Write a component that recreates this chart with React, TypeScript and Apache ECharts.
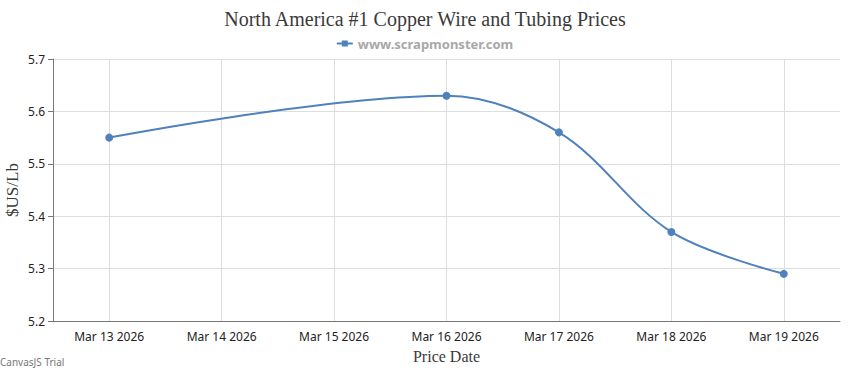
import React, { useEffect, useRef } from "react";
import * as echarts from "echarts";

const categories = ["Mar 13 2026", "Mar 14 2026", "Mar 15 2026", "Mar 16 2026", "Mar 17 2026", "Mar 18 2026", "Mar 19 2026"];
const prices: (number | string)[] = [5.55, "-", "-", 5.63, 5.56, 5.37, 5.29];
const yTicks = { min: 5.2, max: 5.7, interval: 0.1 };

export default function App() {
  const ref = useRef<HTMLDivElement>(null);
  useEffect(() => {
    if (!ref.current) return;
    const chart = echarts.init(ref.current, undefined, { renderer: "svg" });
    const axisFont = "'Noto Sans', sans-serif";
    chart.setOption({
      animation: false,
      backgroundColor: "#ffffff",
      title: {
        text: "North America #1 Copper Wire and Tubing Prices",
        left: "center",
        top: 4,
        textStyle: { fontFamily: "'Liberation Serif', serif", fontSize: 20, fontWeight: "normal", color: "#3a3a3a" },
      },
      legend: {
        top: 32,
        left: "center",
        itemWidth: 16,
        itemHeight: 8,
        itemGap: 4,
        data: [{ name: "www.scrapmonster.com", icon: "path://M0,3L16,3L16,5L0,5Z M5,1L11,1L11,7L5,7Z" }],
        textStyle: { fontFamily: axisFont, fontSize: 13, fontWeight: "bold", color: "#a8a8a8" },
      },
      grid: { left: 53, right: 10, top: 59, bottom: 49, containLabel: false, outerBoundsMode: "none" },
      xAxis: {
        type: "category",
        data: categories,
        boundaryGap: true,
        name: "Price Date",
        nameLocation: "middle",
        nameGap: 27,
        nameMoveOverlap: false,
        nameTextStyle: { fontFamily: "'Liberation Serif', serif", fontSize: 16, color: "#3a3a3a" },
        axisLine: { lineStyle: { color: "#777777", width: 1 } },
        axisTick: { alignWithLabel: true, length: 5, lineStyle: { color: "#777777" } },
        axisLabel: { fontFamily: axisFont, fontSize: 12, color: "#222222", margin: 9 },
        splitLine: { show: true, alignWithLabel: true, lineStyle: { color: "#dddddd", width: 1 } } as any,
      },
      yAxis: {
        type: "value",
        min: yTicks.min,
        max: yTicks.max,
        interval: yTicks.interval,
        name: "$US/Lb",
        nameLocation: "middle",
        nameGap: 32,
        nameMoveOverlap: false,
        nameTextStyle: { fontFamily: "'Liberation Serif', serif", fontSize: 17, color: "#3a3a3a" },
        axisLine: { show: true, lineStyle: { color: "#777777", width: 1 } },
        axisTick: { show: true, length: 5, lineStyle: { color: "#777777" } },
        axisLabel: {
          fontFamily: axisFont,
          fontSize: 12,
          color: "#222222",
          margin: 8,
          formatter: (v: number) => v.toFixed(1),
        },
        splitLine: { show: true, lineStyle: { color: "#dddddd", width: 1 } },
      },
      series: [
        {
          name: "www.scrapmonster.com",
          type: "line",
          data: prices,
          smooth: 0.35,
          connectNulls: true,
          symbol: "circle",
          symbolSize: 8,
          itemStyle: { color: "#4F81BC" },
          lineStyle: { color: "#4F81BC", width: 2 },
        },
      ],
      graphic: [
        {
          type: "text",
          left: 0,
          top: 357,
          style: { text: "CanvasJS Trial", fontFamily: axisFont, fontSize: 10, fill: "#777777" },
        },
      ],
    });
    return () => chart.dispose();
  }, []);
  return <div ref={ref} style={{ width: 850, height: 370, position: "absolute", left: 0, top: 0 }} />;
}
